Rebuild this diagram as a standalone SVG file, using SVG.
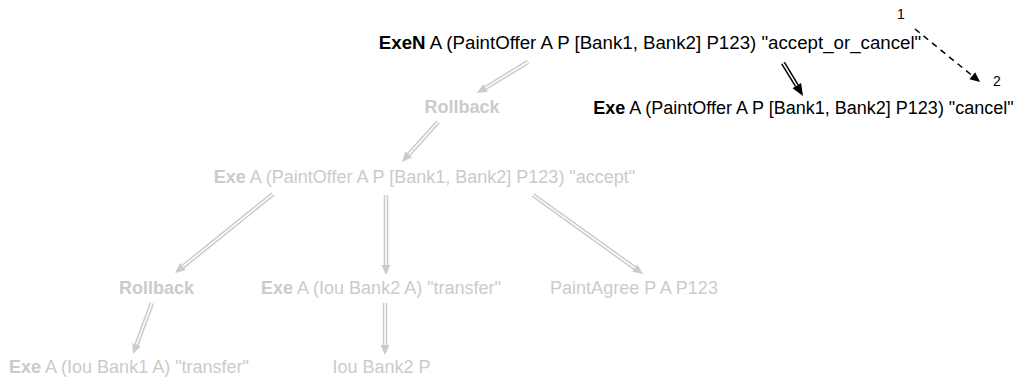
<svg xmlns="http://www.w3.org/2000/svg" width="1014" height="381" viewBox="0 0 1014 381">
<style>
text{font-family:"Liberation Sans",Arial,sans-serif;font-size:18px;text-anchor:middle}
.big{font-size:18.7px}
.g{fill:#cbcbcb}
.k{fill:#000}
.b{font-weight:bold}
.sm{font-size:14px}
.og{fill:none;stroke:#cbcbcb;stroke-width:4.5}
.ok{fill:none;stroke:#000;stroke-width:4.5}
.in{fill:none;stroke:#fff;stroke-width:1.5}
.dash{fill:none;stroke:#000;stroke-width:1.5;stroke-dasharray:6,5}
</style>
<defs>
<marker id="ag" markerUnits="userSpaceOnUse" markerWidth="12" markerHeight="10" refX="0" refY="4.5" orient="auto" viewBox="0 -0.5 12 10" overflow="visible"><path d="M0,0 L10,4.5 L0,9 z" fill="#cbcbcb"/></marker>
<marker id="ak" markerUnits="userSpaceOnUse" markerWidth="14" markerHeight="10" refX="0" refY="5" orient="auto" viewBox="0 0 14 10" overflow="visible"><path d="M0,0 L12,5 L0,10 z" fill="#000"/></marker>
<marker id="ad" markerUnits="userSpaceOnUse" markerWidth="12" markerHeight="10" refX="0" refY="4.5" orient="auto" viewBox="0 -0.5 12 10" overflow="visible"><path d="M0,0 L10,4.5 L0,9 z" fill="#000"/></marker>
</defs>
<g id="connectors">
<path class="og" d="M528,62 L485.5,87.8" marker-end="url(#ag)"/><path class="in" d="M528,62 L485.5,87.8"/>
<path class="og" d="M438,122 L408.7,154.6" marker-end="url(#ag)"/><path class="in" d="M438,122 L408.7,154.6"/>
<path class="og" d="M273,194 L182.8,266.7" marker-end="url(#ag)"/><path class="in" d="M273,194 L182.8,266.7"/>
<path class="og" d="M386,195 L386,265" marker-end="url(#ag)"/><path class="in" d="M386,195 L386,265"/>
<path class="og" d="M533,195 L634.9,268.2" marker-end="url(#ag)"/><path class="in" d="M533,195 L634.9,268.2"/>
<path class="og" d="M152,303 L136.5,344.6" marker-end="url(#ag)"/><path class="in" d="M152,303 L136.5,344.6"/>
<path class="og" d="M385,303 L385,345" marker-end="url(#ag)"/><path class="in" d="M385,303 L385,345"/>
<path class="ok" d="M783,63 L796.8,85.7" marker-end="url(#ak)"/><path class="in" d="M783,63 L796.8,85.7"/>
<path class="dash" d="M915,29 L972.3,75.7" marker-end="url(#ad)"/>
</g>
<g id="n_top"><text x="650" y="49" class="k big"><tspan class="b">ExeN</tspan> A (PaintOffer A P [Bank1, Bank2] P123) "accept_or_cancel"</text></g>
<g id="n_rb1"><text x="462" y="113" class="g b">Rollback</text></g>
<g id="n_cancel"><text x="803.5" y="114" class="k"><tspan class="b">Exe</tspan> A (PaintOffer A P [Bank1, Bank2] P123) "cancel"</text></g>
<g id="n_accept"><text x="424.5" y="183" class="g"><tspan class="b">Exe</tspan> A (PaintOffer A P [Bank1, Bank2] P123) "accept"</text></g>
<g id="n_rb2"><text x="156.5" y="294" class="g b">Rollback</text></g>
<g id="n_iou2"><text x="381" y="294" class="g"><tspan class="b">Exe</tspan> A (Iou Bank2 A) "transfer"</text></g>
<g id="n_agree"><text x="634" y="294" class="g">PaintAgree P A P123</text></g>
<g id="n_iou1"><text x="129" y="373" class="g"><tspan class="b">Exe</tspan> A (Iou Bank1 A) "transfer"</text></g>
<g id="n_iouP"><text x="381.5" y="373" class="g">Iou Bank2 P</text></g>
<g id="n_1"><text x="901" y="19" class="k sm">1</text></g>
<g id="n_2"><text x="997" y="86" class="k sm">2</text></g>
</svg>
